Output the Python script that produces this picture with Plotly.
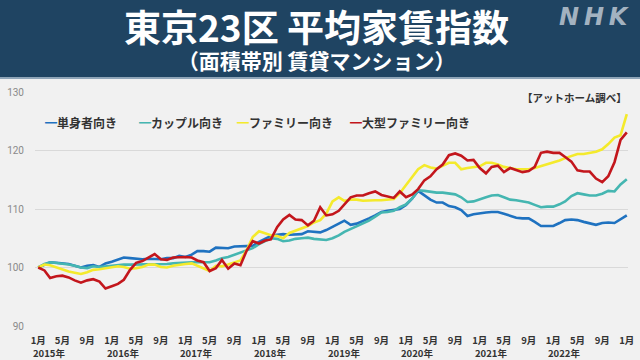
import pandas as pd
import plotly.graph_objects as go

# ---------------- data ----------------
months = pd.date_range("2015-01-01", "2023-01-01", freq="MS")

single = [100.0, 100.5, 100.9, 100.8, 100.7, 100.6, 100.3, 100.0, 100.3, 100.4, 100.1, 100.7,
          101.0, 101.3, 101.7, 101.6, 101.5, 101.4, 101.5, 101.4, 101.4, 101.6, 101.6, 102.0,
          101.8, 102.2, 102.8, 102.8, 102.7, 103.4, 103.3, 103.3, 103.6, 103.6, 103.6, 103.7,
          104.4, 105.0, 105.4, 105.6, 105.7, 105.6, 105.7, 105.7, 106.2, 106.1, 106.0, 106.4,
          106.9, 107.5, 108.0, 107.3, 107.5, 107.9, 108.4, 108.9, 109.5, 109.7, 109.8, 110.0,
          110.7, 111.8, 113.1, 112.4, 111.6, 111.1, 111.1, 110.5, 110.3, 109.8, 108.8, 109.1,
          109.3, 109.4, 109.5, 109.5, 109.2, 108.9, 108.5, 108.4, 108.4, 107.8, 107.1, 107.1,
          107.1, 107.6, 108.1, 108.2, 108.1, 107.8, 107.5, 107.3, 107.6, 107.7, 107.6, 108.2,
          108.9]

couple = [100.0, 100.6, 100.9, 100.8, 100.7, 100.5, 100.3, 100.0, 99.9, 100.2, 100.1, 100.2,
          100.4, 100.5, 100.5, 100.5, 100.5, 100.5, 100.6, 100.6, 100.6, 100.6, 100.7, 100.8,
          100.9, 100.9, 100.9, 100.9, 100.9, 101.2, 101.6, 101.8, 102.2, 102.5, 102.9, 103.3,
          104.0, 104.6, 105.0, 104.9, 104.5, 104.6, 104.9, 105.0, 105.1, 104.9, 104.8, 104.7,
          105.0, 105.5, 106.1, 106.6, 107.0, 107.5, 108.0, 108.7, 109.4, 109.5, 109.7, 110.3,
          110.8, 111.8, 113.2, 113.1, 112.9, 112.8, 112.8, 112.6, 112.5, 112.0, 111.2, 111.3,
          111.7, 112.0, 112.3, 112.4, 112.0, 111.6, 111.5, 111.3, 111.1, 110.7, 110.3, 110.4,
          110.4, 110.8, 111.3, 112.2, 112.7, 112.5, 112.3, 112.3, 112.6, 113.1, 113.0, 114.2,
          115.1]

family = [100.0, 100.5, 100.4, 100.0, 99.7, 99.3, 99.1, 98.9, 99.2, 99.6, 99.7, 99.9,
          100.1, 100.2, 100.1, 99.8, 99.9, 100.1, 100.5, 100.5, 100.1, 100.0, 100.3, 100.5,
          100.6, 100.7, 100.3, 99.8, 99.4, 100.3, 100.2, 100.5, 100.8, 101.2, 103.0, 105.2,
          106.2, 105.8, 105.5, 105.4, 105.0, 105.9, 106.3, 106.7, 107.1, 107.7, 108.1, 109.2,
          111.3, 112.0, 111.4, 111.6, 111.6, 111.4, 111.5, 111.5, 111.5, 111.6, 111.7, 112.7,
          114.1, 115.7, 116.8, 117.5, 117.1, 116.9, 117.4, 117.9, 117.9, 116.8, 117.0, 117.2,
          117.3, 117.9, 117.9, 117.6, 117.2, 117.0, 116.8, 116.8, 116.8, 117.0, 117.3, 117.7,
          117.9, 118.3, 118.7, 119.1, 119.4, 119.4, 119.6, 119.8, 120.2, 121.1, 122.2, 122.6,
          126.2]

large_family = [100.0, 99.5, 98.2, 98.5, 98.6, 98.3, 97.8, 97.4, 97.8, 98.0, 97.6, 96.4,
                96.8, 97.2, 97.9, 99.6, 100.8, 101.1, 101.7, 102.3, 101.4, 101.3, 101.7, 101.8,
                101.8, 101.7, 101.2, 100.9, 99.4, 99.9, 101.3, 99.8, 100.7, 100.4, 102.9, 104.5,
                104.1, 104.6, 104.8, 106.9, 108.2, 109.0, 108.2, 108.1, 107.2, 108.0, 110.3, 108.9,
                109.1, 109.7, 110.8, 112.0, 112.3, 112.3, 112.7, 113.0, 112.4, 112.1, 111.9, 113.0,
                112.0, 112.5, 113.4, 114.9, 115.6, 116.8, 117.6, 119.2, 119.5, 119.1, 118.3, 118.4,
                117.0, 116.1, 117.2, 117.4, 116.3, 117.0, 116.7, 116.3, 116.5, 117.2, 119.6, 119.8,
                119.6, 119.6, 118.9, 118.1, 116.6, 116.4, 116.4, 115.2, 114.6, 115.6, 118.0, 121.8,
                123.1]

series_names = ["単身者向き", "カップル向き", "ファミリー向き", "大型ファミリー向き"]
series_values = [single, couple, family, large_family]
series_colors = ["#1f72c0", "#45b6b1", "#f4ea2c", "#c3161c"]

tick_month_labels = ["1月", "5月", "9月"]
tick_month_numbers = [1, 5, 9]
tick_years = [2015, 2016, 2017, 2018, 2019, 2020, 2021, 2022]
final_tick = ("2023-01-01", "1月")

title_text = "東京23区 平均家賃指数"
subtitle_text = "（面積帯別 賃貸マンション）"
source_text = "【アットホーム調べ】"

# ---------------- layout helpers ----------------
W, H = 640, 360
ML, MR, MT, MB = 35, 12, 92, 34
PW, PH = W - ML - MR, H - MT - MB
FONT = "Noto Sans CJK JP"


def px(x):
    return (x - ML) / PW


def py(y):
    return (H - MB - y) / PH


fig = go.Figure()
for name, vals, col in zip(series_names, series_values, series_colors):
    fig.add_trace(go.Scatter(x=months, y=vals, name=name, mode="lines",
                             line=dict(color=col, width=2.6), showlegend=False))

tickvals, ticktext = [], []
for yr in tick_years:
    for mn, lab in zip(tick_month_numbers, tick_month_labels):
        tickvals.append(f"{yr}-{mn:02d}-01")
        ticktext.append(f"<b>{lab}</b>")
tickvals.append(final_tick[0])
ticktext.append(f"<b>{final_tick[1]}</b>")

annotations = []
# year labels under January ticks
for yr in tick_years:
    annotations.append(dict(x=f"{yr}-01-01", xref="x", y=py(353), yref="paper",
                            text=f"<b>{yr}年</b>", showarrow=False, xanchor="left",
                            yanchor="middle", xshift=-7,
                            font=dict(family=FONT, size=9.5, color="#333333")))
# title + subtitle in one block
annotations.append(dict(x=px(316), y=py(37.5), xref="paper", yref="paper",
                        text=(f"<b><span style='font-size:37px'>{title_text}</span><br>"
                              f"{subtitle_text}</b>"),
                        showarrow=False, xanchor="center", yanchor="middle", align="center",
                        font=dict(family=FONT, size=21, color="white")))
# NHK mark
annotations.append(dict(x=px(632), y=py(17), xref="paper", yref="paper",
                        text="<b><i>N\u2009H\u2009K</i></b>",
                        showarrow=False, xanchor="right", yanchor="middle",
                        font=dict(family="DejaVu Sans", size=24, color="#a3b2c0")))
# source
annotations.append(dict(x=px(629), y=py(97), xref="paper", yref="paper", text=f"<b>{source_text}</b>",
                        showarrow=False, xanchor="right", yanchor="middle",
                        font=dict(family=FONT, size=10.5, color="#333333")))
# legend (as text items)
legend_x = [43, 137, 235, 348]
for name, col, lx in zip(series_names, series_colors, legend_x):
    annotations.append(dict(x=px(lx), y=py(122), xref="paper", yref="paper",
                            text=f"<span style='color:{col}'>━</span><b>{name}</b>",
                            showarrow=False, xanchor="left", yanchor="middle",
                            font=dict(family=FONT, size=12, color="#333333")))

shapes = [
    dict(type="rect", xref="paper", yref="paper", x0=-0.2, x1=1.2, y0=py(77), y1=py(-5),
         fillcolor="#1f4462", line=dict(width=0), layer="below"),
    dict(type="rect", xref="paper", yref="paper", x0=-0.2, x1=1.2, y0=py(79), y1=py(77),
         fillcolor="#8fa5b8", line=dict(width=0), layer="below"),
]

fig.update_layout(
    width=W, height=H,
    margin=dict(l=ML, r=MR, t=MT, b=MB, pad=0, autoexpand=False),
    paper_bgcolor="#f1f1f1", plot_bgcolor="#f1f1f1",
    font=dict(family=FONT),
    showlegend=False,
    hovermode=False,
    annotations=annotations,
    shapes=shapes,
    xaxis=dict(type="date", range=["2014-12-16", "2023-01-07"], showgrid=False, zeroline=False,
               showline=False, ticks="", tickmode="array", tickvals=tickvals, ticktext=ticktext,
               tickangle=0, tickfont=dict(family=FONT, size=9.5, color="#333333"),
               ticklabelstandoff=7, automargin=False),
    yaxis=dict(range=[90, 130], dtick=10, tick0=90, showgrid=True, gridcolor="#d9d9d9", gridwidth=1,
               zeroline=False, showline=False, ticks="",
               tickfont=dict(family="Roboto", size=10, color="#8a8a8a"),
               ticklabelstandoff=10, automargin=False),
)

fig.write_html("out.html", config={"displayModeBar": False, "staticPlot": True},
               post_script="document.body.style.margin='0';document.body.style.overflow='hidden';")
